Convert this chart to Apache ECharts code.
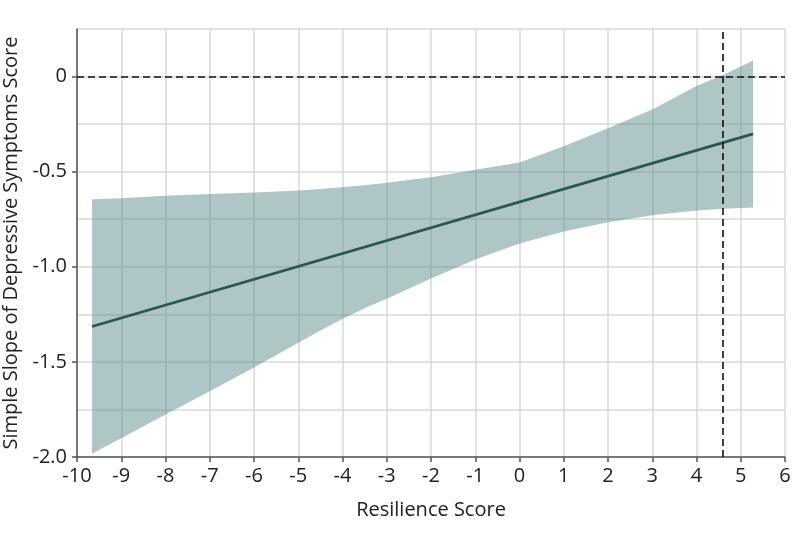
<!DOCTYPE html>
<html>
<head>
<meta charset="utf-8">
<script src="https://cdn.jsdelivr.net/npm/echarts@6/dist/echarts.min.js"></script>
<style>
html,body{margin:0;padding:0;background:#fff;}
#chart{width:798px;height:543px;}
</style>
</head>
<body>
<div id="chart"></div>
<script>
// Confidence band (x positions, upper and lower bounds)
var bandX = [-9.66, -9, -8, -7, -6, -5, -4.5, -4, -3.5, -3, -2, -1, 0, 1, 2, 3, 4, 4.6, 5.28];
var bandUpper = [-0.645, -0.640, -0.627, -0.618, -0.609, -0.599, -0.591, -0.582, -0.571, -0.558, -0.530, -0.490, -0.452, -0.366, -0.272, -0.173, -0.050, 0.008, 0.085];
var bandLower = [-1.983, -1.902, -1.777, -1.655, -1.530, -1.400, -1.335, -1.275, -1.218, -1.168, -1.062, -0.962, -0.877, -0.814, -0.766, -0.729, -0.704, -0.695, -0.688];
// Simple slope line
var slopeX = [-9.66, 5.28];
var slopeY = [-1.314, -0.301];
// Reference lines
var refX = 4.6;
var refY = 0;
// Axis settings and tick labels
var xTicks = {min: -10, max: 6, interval: 1};
var yTicks = {min: -2, max: 0.25, interval: 0.25};
var yLabelValues = [-2, -1.5, -1, -0.5, 0];

var font = '"Open Sans", Lato, sans-serif';
var fs = 20;
var chart = echarts.init(document.getElementById('chart'), null, {renderer: 'canvas'});

var bandPoly = [];
for (var i = 0; i < bandX.length; i++) bandPoly.push([bandX[i], bandUpper[i]]);
for (var j = bandX.length - 1; j >= 0; j--) bandPoly.push([bandX[j], bandLower[j]]);

var lineData = slopeX.map(function (x, k) { return [x, slopeY[k]]; });

chart.setOption({
  animation: false,
  grid: {left: 77, right: 13, top: 29, bottom: 86, containLabel: false, outerBoundsMode: 'none'},
  xAxis: {
    type: 'value', min: xTicks.min, max: xTicks.max, interval: xTicks.interval,
    name: 'Resilience Score', nameLocation: 'middle', nameGap: 43,
    nameTextStyle: {fontFamily: font, fontSize: fs, color: '#222'},
    axisLine: {show: true, onZero: false, lineStyle: {color: '#555', width: 1.5}},
    axisTick: {show: true, length: 5, lineStyle: {color: '#555', width: 1.5}},
    axisLabel: {fontFamily: font, fontSize: fs, color: '#222', margin: 9},
    splitLine: {show: true, lineStyle: {color: '#d9d9d9', width: 1.5}}
  },
  yAxis: [
    {
      type: 'value', min: yTicks.min, max: yTicks.max, interval: yTicks.interval,
      name: 'Simple Slope of Depressive Symptoms Score', nameLocation: 'middle', nameGap: 48,
      nameTextStyle: {fontFamily: font, fontSize: fs, color: '#222'},
      axisLine: {show: true, onZero: false, lineStyle: {color: '#555', width: 1.5}},
      axisTick: {show: true, length: 5, customValues: yLabelValues, lineStyle: {color: '#555', width: 1.5}},
      axisLabel: {fontFamily: font, fontSize: fs, color: '#222', margin: 10, customValues: yLabelValues,
        formatter: function (v) { return v === 0 ? '0' : v.toFixed(1); }},
      splitLine: {show: false},
      z: 1
    },
    {
      type: 'value', min: yTicks.min, max: yTicks.max, interval: yTicks.interval,
      position: 'left',
      axisLine: {show: false}, axisTick: {show: false}, axisLabel: {show: false},
      splitLine: {show: true, lineStyle: {color: '#d9d9d9', width: 1.5}},
      z: 0
    }
  ],
  series: [
    {
      type: 'custom',
      silent: true,
      z: 2,
      data: [0],
      renderItem: function (params, api) {
        var pts = bandPoly.map(function (p) { return api.coord(p); });
        return {type: 'polygon', shape: {points: pts},
          style: {fill: 'rgba(85,135,133,0.48)', stroke: null}};
      }
    },
    {
      type: 'line',
      data: lineData,
      showSymbol: false,
      z: 3,
      lineStyle: {color: '#2a5654', width: 2.8},
      markLine: {
        silent: true, symbol: 'none', label: {show: false},
        lineStyle: {color: '#111', type: [7, 4], width: 1.6},
        data: [
          [{coord: [xTicks.min, refY]}, {coord: [xTicks.max, refY]}],
          [{coord: [refX, yTicks.min]}, {coord: [refX, yTicks.max]}]
        ]
      }
    }
  ]
});
</script>
</body>
</html>
